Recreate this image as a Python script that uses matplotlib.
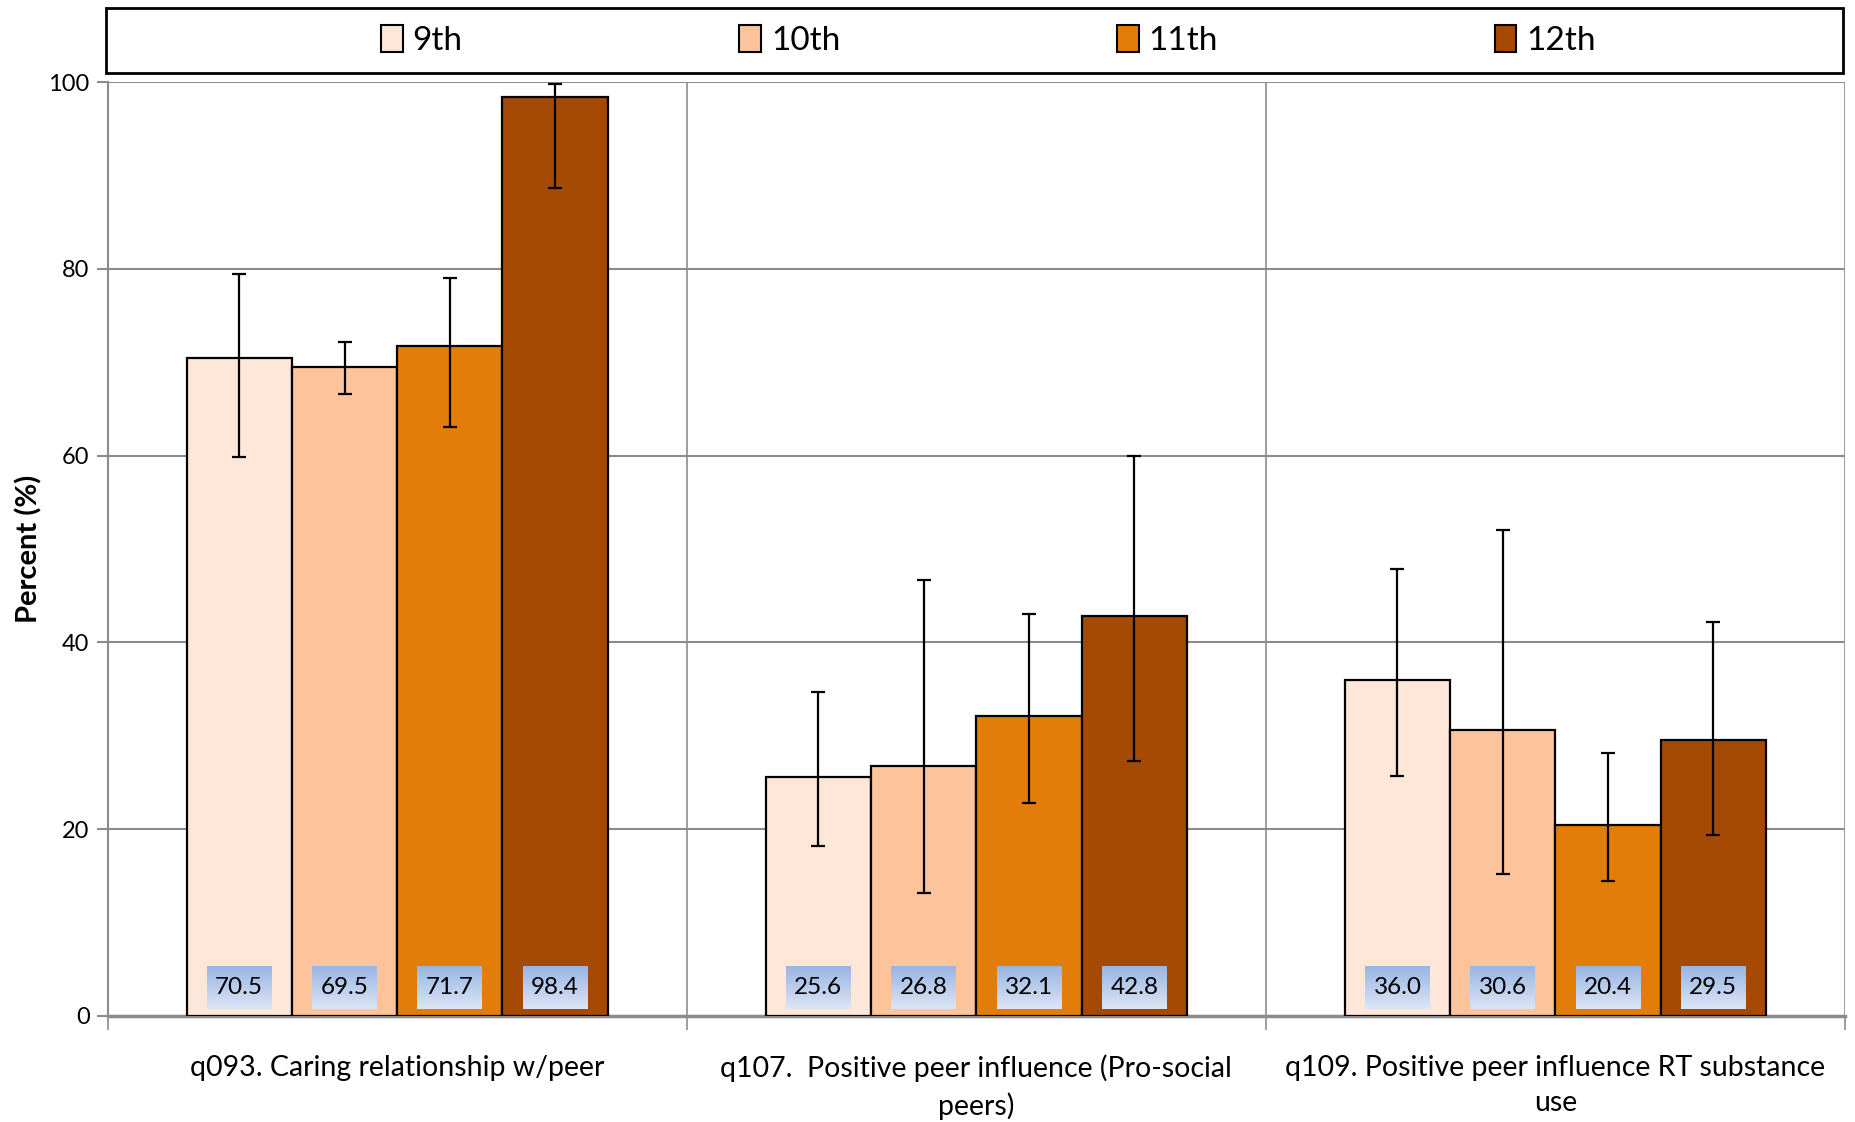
import numpy as np
import matplotlib.pyplot as plt
from matplotlib.patches import Rectangle

plt.rcParams['font.family'] = ['Lato', 'DejaVu Sans']

categories = ['q093. Caring relationship w/peer',
              'q107.  Positive peer influence (Pro-social\npeers)',
              'q109. Positive peer influence RT substance\nuse']
grades = ['9th', '10th', '11th', '12th']
colors = ['#FEE6D8', '#FDC49C', '#E27D0A', '#A54A05']

values = {
    '9th': [70.5, 25.6, 36.0],
    '10th': [69.5, 26.8, 30.6],
    '11th': [71.7, 32.1, 20.4],
    '12th': [98.4, 42.8, 29.5],
}
lower_ci = {
    '9th': [59.8, 18.2, 25.7],
    '10th': [66.6, 13.2, 15.2],
    '11th': [63.1, 22.8, 14.4],
    '12th': [88.7, 27.3, 19.4],
}
upper_ci = {
    '9th': [79.4, 34.7, 47.9],
    '10th': [72.2, 46.7, 52.0],
    '11th': [79.0, 43.0, 28.2],
    '12th': [99.8, 60.0, 42.2],
}

fig = plt.figure(figsize=(18.55, 11.22), dpi=100)
ax = fig.add_axes([0.058, 0.0945, 0.9366, 0.8324])

x = np.arange(len(categories))
width = 1 / 5.5
grad = np.linspace(0, 1, 64).reshape(-1, 1)
cmap = plt.matplotlib.colors.LinearSegmentedColormap.from_list('lbl', ['#DCE5F5', '#98B5E3'])

for i, g in enumerate(grades):
    pos = x + (i - 1.5) * width
    vals = np.array(values[g])
    err = [vals - np.array(lower_ci[g]), np.array(upper_ci[g]) - vals]
    ax.bar(pos, vals, width, color=colors[i], edgecolor='black', linewidth=1.6,
           label=g, zorder=3)
    ax.errorbar(pos, vals, yerr=err, fmt='none', ecolor='black', elinewidth=1.6,
                capsize=5, capthick=1.6, zorder=4)
    for p, v in zip(pos, vals):
        bw = 0.112
        ax.imshow(grad, cmap=cmap, aspect='auto', origin='lower',
                  extent=(p - bw / 2, p + bw / 2, 0.75, 5.25), zorder=5)
        ax.text(p, 3.0, f'{v:.1f}', ha='center', va='center', fontsize=17.5, zorder=6)

ax.set_xlim(-0.5, 2.5)
ax.set_ylim(0, 100)
ax.set_yticks(np.arange(0, 101, 20))
ax.tick_params(axis='y', labelsize=17, length=8, color='#8c8c8c', width=1.5, pad=5)
ax.yaxis.grid(True, color='#8c8c8c', linewidth=1.5, zorder=0)

ax.set_xticks([-0.5, 0.5, 1.5, 2.5])
ax.set_xticklabels([])
ax.tick_params(axis='x', which='major', length=10, color='#8c8c8c', width=1.2)
ax.xaxis.grid(True, which='major', color='#8c8c8c', linewidth=1.2, zorder=0)
ax.set_xticks(x, minor=True)
ax.set_xticklabels(categories, minor=True, fontsize=20.5)
ax.tick_params(axis='x', which='minor', length=0, pad=28)
for lbl in ax.get_xticklabels(minor=True):
    lbl.set_linespacing(1.45)

for s in ['top', 'right']:
    ax.spines[s].set_visible(False)
ax.spines['left'].set_color('#8c8c8c')
ax.spines['left'].set_linewidth(1.5)
ax.spines['bottom'].set_color('#8c8c8c')
ax.spines['bottom'].set_linewidth(2.5)

ax.set_ylabel('Percent (%)', fontsize=21, fontweight='bold', labelpad=4)

ax.add_patch(Rectangle((-0.001, 1.0096), 1.0, 0.0694, transform=ax.transAxes,
                       fill=False, edgecolor='black', linewidth=2, clip_on=False))
leg = ax.legend(loc='center', bbox_to_anchor=(0.507, 1.0443), ncol=4, frameon=False,
                fontsize=24, handlelength=0.65, handleheight=0.85, handletextpad=0.3,
                columnspacing=8.3)
for h in leg.legend_handles:
    h.set_linewidth(1.5)

fig.savefig('out.png', dpi=100)
